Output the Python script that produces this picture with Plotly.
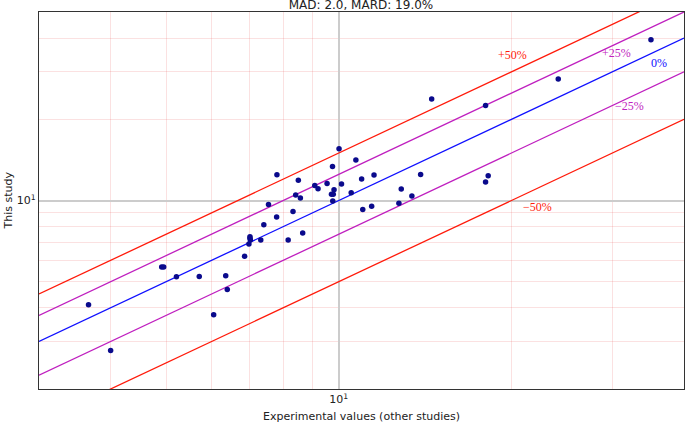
import plotly.graph_objects as go
import numpy as np

# Data
experimental = [3.66, 4.00, 4.91, 4.95, 5.21, 5.71, 6.05, 6.35, 6.39, 6.85,
                6.97, 7.01, 7.00, 7.00, 7.31, 7.40, 7.54, 7.79, 7.80, 8.16,
                8.32, 8.41, 8.50, 8.57, 8.65, 9.08, 9.20, 9.54, 9.71, 9.78,
                9.81, 9.75, 9.76, 10.01, 10.11, 10.51, 10.71, 10.96, 11.01, 11.41,
                11.52, 12.73, 12.85, 13.41, 13.89, 14.52, 18.03, 18.22, 18.03, 24.14,
                35.03]
this_study = [4.11, 2.78, 5.67, 5.67, 5.21, 5.23, 3.77, 5.26, 4.68, 6.21,
              6.90, 7.13, 7.25, 7.34, 7.13, 8.13, 9.66, 8.69, 12.46, 7.13,
              9.11, 10.49, 11.89, 10.22, 7.58, 11.37, 11.06, 11.57, 10.54, 10.54,
              10.95, 13.38, 9.96, 15.56, 11.52, 10.69, 14.13, 12.02, 9.27, 9.53,
              12.43, 9.76, 11.04, 10.40, 12.49, 23.79, 11.72, 12.34, 22.51, 28.22,
              39.47]

line_factors = [1.5, 1.25, 1.0, 0.75, 0.5]
line_labels = ["+50%", "+25%", "0%", "\u221225%", "\u221250%"]
line_colors = ["#ff1a0a", "#bf1fbf", "#1010ff", "#bf1fbf", "#ff1a0a"]
# label anchor positions (data coords)
label_pos = [(20.1, 34.7), (30.5, 35.3), (36.2, 32.4), (32.1, 22.5), (22.2, 9.49)]

x_range = [3.0, 40.0]
y_range = [2.0, 50.0]

fig = go.Figure()

xs = np.array(x_range)
for f, c in zip(line_factors, line_colors):
    fig.add_trace(go.Scatter(x=xs, y=xs * f, mode="lines",
                             line=dict(color=c, width=1.3), hoverinfo="skip",
                             showlegend=False))

fig.add_trace(go.Scatter(x=experimental, y=this_study, mode="markers",
                         marker=dict(color="#0a0a8c", size=5.5),
                         showlegend=False))

for (lx, ly), t, c in zip(label_pos, line_labels, line_colors):
    fig.add_annotation(x=np.log10(lx), y=np.log10(ly), text=t, showarrow=False,
                       font=dict(family="Liberation Serif", size=12, color=c),
                       xanchor="center", yanchor="middle")

# axis titles
fig.add_annotation(x=0.5, y=0, xref="paper", yref="paper", yshift=-27,
                   text="Experimental values (other studies)", showarrow=False,
                   xanchor="center", yanchor="middle",
                   font=dict(family="DejaVu Sans", size=11, color="#222"))
fig.add_annotation(x=0, y=0.5, xref="paper", yref="paper", xshift=-31,
                   text="This study", showarrow=False, textangle=-90,
                   xanchor="center", yanchor="middle",
                   font=dict(family="DejaVu Sans", size=11, color="#222"))

grid_minor_x = [4, 5, 6, 7, 8, 9, 20, 30, 40]
grid_minor_y = [3, 4, 5, 6, 7, 8, 9, 20, 30, 40]

axis_common = dict(type="log", showline=True, mirror=True, linecolor="#333333",
                   linewidth=1.3, gridcolor="#cccccc", gridwidth=1.6,
                   ticks="", zeroline=False, automargin=False,
                   tickfont=dict(family="DejaVu Sans", size=11, color="#222"))

fig.update_xaxes(**axis_common,
                 range=[np.log10(x_range[0]), np.log10(x_range[1])],
                 tickvals=[10], ticktext=["10<sup>1</sup>"],
                 minor=dict(tickvals=grid_minor_x, showgrid=True,
                            gridcolor="rgba(235,90,90,0.18)", gridwidth=1, ticks=""))
fig.update_yaxes(**axis_common,
                 range=[np.log10(y_range[0]), np.log10(y_range[1])],
                 tickvals=[10], ticktext=["10<sup>1</sup>"],
                 minor=dict(tickvals=grid_minor_y, showgrid=True,
                            gridcolor="rgba(235,90,90,0.18)", gridwidth=1, ticks=""))

fig.update_layout(
    width=685, height=425,
    margin=dict(l=39, r=1, t=12, b=36, autoexpand=False),
    paper_bgcolor="white", plot_bgcolor="white",
    title=dict(text="MAD: 2.0, MARD: 19.0%", x=0.527, xanchor="center",
               y=1 - 5 / 425, yanchor="middle", yref="container",
               font=dict(family="DejaVu Sans", size=12, color="#222")),
)

fig.write_html("out.html", config={"displayModeBar": False},
               post_script="document.body.style.margin='0';document.body.style.overflow='hidden';")
